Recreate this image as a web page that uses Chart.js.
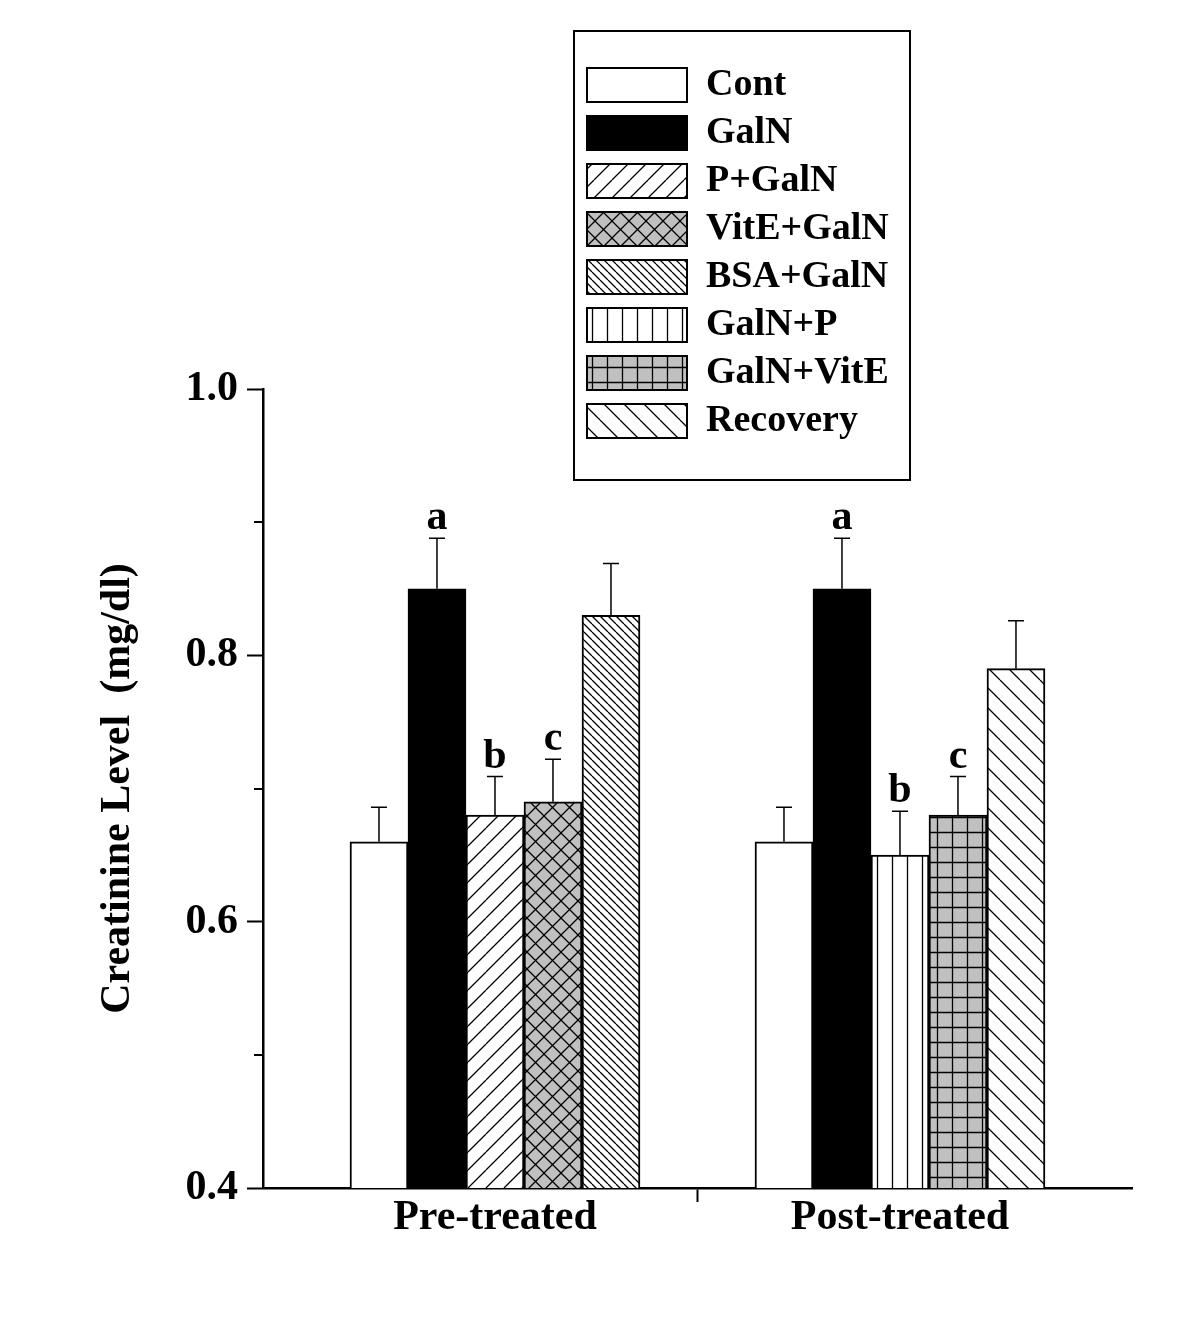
<!DOCTYPE html>
<html>
<head>
  <title>Creatinine Level</title>
  <script src="https://cdn.jsdelivr.net/npm/chart.js@4.4.1/dist/chart.umd.min.js"></script>
  <style>
    body { margin: 0; background: #fff; }
  </style>
</head>
<body>
  <canvas id="creatinineChart" width="1200" height="1322"></canvas>

  <script>
    // groups on the x axis and the eight treatment series
    const groups = ['Pre-treated', 'Post-treated'];
    const seriesNames = ['Cont', 'GalN', 'P+GalN', 'VitE+GalN', 'BSA+GalN', 'GalN+P', 'GalN+VitE', 'Recovery'];

    // mean creatinine (mg/dl), null where the group has no such bar
    const cont      = [0.66, 0.66];
    const galn      = [0.85, 0.85];
    const pGaln     = [0.68, null];
    const vitEGaln  = [0.69, null];
    const bsaGaln   = [0.83, null];
    const galnP     = [null, 0.65];
    const galnVitE  = [null, 0.68];
    const recovery  = [null, 0.79];

    // upper error (SD)
    const contErr     = [0.026, 0.026];
    const galnErr     = [0.038, 0.038];
    const pGalnErr    = [0.029, null];
    const vitEGalnErr = [0.032, null];
    const bsaGalnErr  = [0.039, null];
    const galnPErr    = [null, 0.033];
    const galnVitEErr = [null, 0.029];
    const recoveryErr = [null, 0.036];

    // significance letters above the bars
    const contSig     = [null, null];
    const galnSig     = ['a', 'a'];
    const pGalnSig    = ['b', null];
    const vitEGalnSig = ['c', null];
    const bsaGalnSig  = [null, null];
    const galnPSig    = [null, 'b'];
    const galnVitESig = [null, 'c'];
    const recoverySig = [null, null];

    // y axis
    const yMin = 0.4;
    const yMax = 1.0;
    const yStep = 0.2;
    const minorTicks = [0.5, 0.7, 0.9];

    const values = [cont, galn, pGaln, vitEGaln, bsaGaln, galnP, galnVitE, recovery];
    const errors = [contErr, galnErr, pGalnErr, vitEGalnErr, bsaGalnErr, galnPErr, galnVitEErr, recoveryErr];
    const letters = [contSig, galnSig, pGalnSig, vitEGalnSig, bsaGalnSig, galnPSig, galnVitESig, recoverySig];

    const serif = "'Liberation Serif', 'Times New Roman', serif";
    Chart.defaults.font.family = serif;
    Chart.defaults.color = '#000';

    // hatch fills like the original figure
    function makePattern(bg, kind, step) {
      const c = document.createElement('canvas');
      c.width = step; c.height = step;
      const g = c.getContext('2d');
      g.fillStyle = bg;
      g.fillRect(0, 0, step, step);
      g.strokeStyle = '#000';
      g.lineWidth = 1.3;
      g.beginPath();
      for (const k of [-1, 0, 1]) {
        if (kind === '/' || kind === 'x') { g.moveTo(k * step, step); g.lineTo(k * step + step, 0); }
        if (kind === '\\' || kind === 'x') { g.moveTo(k * step, 0); g.lineTo(k * step + step, step); }
      }
      if (kind === '|' || kind === '+') { g.moveTo(step / 2, 0); g.lineTo(step / 2, step); }
      if (kind === '+') { g.moveTo(0, step / 2); g.lineTo(step, step / 2); }
      g.stroke();
      return g.createPattern(c, 'repeat');
    }

    const fills = [
      '#ffffff',
      '#000000',
      makePattern('#ffffff', '/', 18),
      makePattern('#c0c0c0', 'x', 17),
      makePattern('#ffffff', '\\', 8),
      makePattern('#ffffff', '|', 15),
      makePattern('#c0c0c0', '+', 15),
      makePattern('#ffffff', '\\', 20)
    ];

    const extras = {
      id: 'extras',
      beforeDraw(chart) {
        // put the legend in its framed box above the bars
        const lg = chart.legend;
        lg.left = 577; lg.top = 56; lg.right = 911; lg.bottom = 480;
      },
      afterDatasetsDraw(chart) {
        const ctx = chart.ctx;
        const y = chart.scales.y;
        ctx.save();
        ctx.strokeStyle = '#000';
        ctx.lineWidth = 1.5;
        ctx.fillStyle = '#000';
        ctx.font = 'bold 42px ' + serif;
        ctx.textAlign = 'center';
        ctx.textBaseline = 'alphabetic';
        chart.data.datasets.forEach((ds, i) => {
          const meta = chart.getDatasetMeta(i);
          ds.data.forEach((v, j) => {
            if (v === null) return;
            const bar = meta.data[j];
            const top = y.getPixelForValue(v + errors[i][j]);
            ctx.beginPath();
            ctx.moveTo(bar.x, bar.y);
            ctx.lineTo(bar.x, top);
            ctx.moveTo(bar.x - 8, top);
            ctx.lineTo(bar.x + 8, top);
            ctx.stroke();
            if (letters[i][j]) ctx.fillText(letters[i][j], bar.x, top - 9);
          });
        });
        ctx.restore();
      },
      afterDraw(chart) {
        const ctx = chart.ctx;
        const y = chart.scales.y;
        const left = chart.chartArea.left;
        ctx.save();
        ctx.strokeStyle = '#000';
        ctx.lineWidth = 2;
        ctx.beginPath();
        minorTicks.forEach(v => {
          const p = Math.round(y.getPixelForValue(v));
          ctx.moveTo(left - 9, p);
          ctx.lineTo(left, p);
        });
        ctx.stroke();
        ctx.strokeRect(574, 31, 336, 449);
        ctx.restore();
      }
    };

    const ctx = document.getElementById('creatinineChart').getContext('2d');
    new Chart(ctx, {
      type: 'bar',
      data: {
        labels: groups,
        datasets: seriesNames.map((name, i) => ({
          label: name,
          data: values[i],
          backgroundColor: fills[i],
          borderColor: '#000',
          borderWidth: 2,
          borderSkipped: false,
          barThickness: 58,
          skipNull: true
        }))
      },
      options: {
        responsive: false,
        animation: false,
        events: [],
        layout: { padding: { left: 89, top: 389, right: 68, bottom: 88 } },
        plugins: {
          tooltip: { enabled: false },
          legend: {
            position: 'chartArea',
            align: 'start',
            labels: {
              boxWidth: 100,
              boxHeight: 34,
              padding: 10,
              color: '#000',
              font: { size: 38, weight: 'bold', family: serif }
            }
          }
        },
        scales: {
          x: {
            border: { color: '#000', width: 2.5 },
            grid: {
              drawOnChartArea: false,
              tickLength: 14,
              tickWidth: 2,
              tickColor: c => c.index === 1 ? '#000' : 'rgba(0,0,0,0)'
            },
            ticks: {
              padding: -5,
              color: '#000',
              font: { size: 42, weight: 'bold', family: serif, lineHeight: 1 }
            },
            // group centres sit closer together than plain category spacing
            afterBuildTicks: s => {
              s._startValue = -0.5728;
              s._valueRange = 2.1457;
            }
          },
          y: {
            min: yMin,
            max: yMax,
            border: { color: '#000', width: 2.5 },
            grid: { drawOnChartArea: false, tickLength: 16, tickWidth: 2, tickColor: '#000' },
            ticks: {
              stepSize: yStep,
              padding: 9,
              color: '#000',
              font: { size: 42, weight: 'bold', family: serif },
              callback: v => v.toFixed(1)
            },
            title: {
              display: true,
              text: 'Creatinine Level  (mg/dl)',
              color: '#000',
              font: { size: 42, weight: 'bold', family: serif }
            },
            afterFit: s => { s.width = 174; }
          }
        }
      },
      plugins: [extras]
    });
  </script>
</body>
</html>
